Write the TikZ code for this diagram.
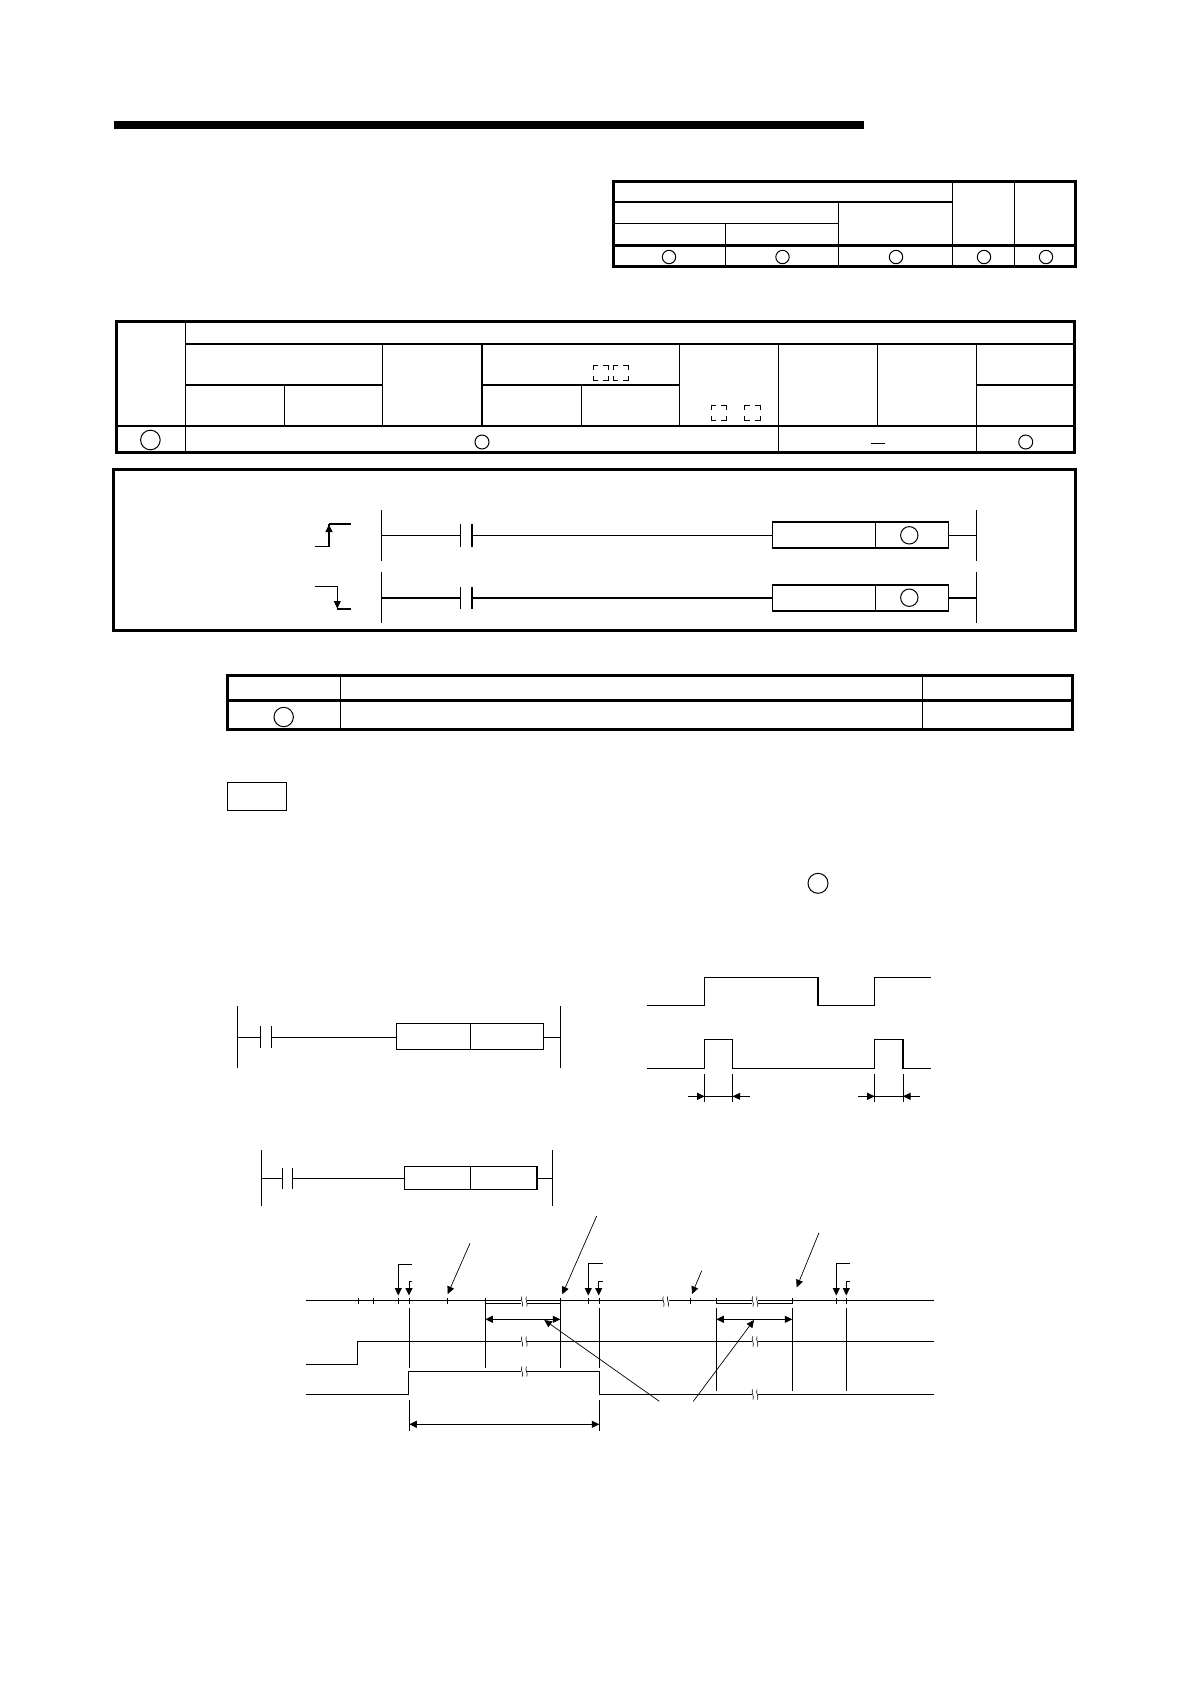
\documentclass[tikz,border=0pt]{standalone}
\usepackage{amsmath}
\usetikzlibrary{arrows.meta}
\tikzset{
	outerline/.style={line width=3pt},
	midline/.style={line width=1.8pt},
	thinline/.style={line width=1pt},
	leaderline/.style={line width=0.7pt},
	headend/.style={-{Triangle[length=7.5pt,width=7pt]}},
	headboth/.style={{Triangle[length=7.5pt,width=7pt]}-{Triangle[length=7.5pt,width=7pt]}},
	bracketbox/.style={line width=0.8pt,dash pattern=on 10pt off 5.2pt,dash phase=5pt},
}
\newcommand{\breakmark}[2]{%
\fill[white] (#1-3,#2-2.5) rectangle (#1+3,#2+2.5);
\draw[line width=0.6pt] (#1-2.5,#2-5) .. controls (#1-4,#2-1) and (#1-0.5,#2+1) .. (#1-2,#2+5);
\draw[line width=0.6pt] (#1+2,#2-5) .. controls (#1+0.5,#2-1) and (#1+4,#2+1) .. (#1+2.5,#2+5);
}
\begin{document}
\begin{tikzpicture}[x=1pt,y=-1pt,thinline]
\useasboundingbox (0,0) rectangle (1190,1684);
\fill (114,121) rectangle (864,129);

\draw[outerline] (613.5,181) rectangle (1075.5,266);
\draw[midline] (613.5,202) -- (952.7,202);
\draw[line width=1.4pt] (613.5,223.3) -- (838.5,223.3);
\draw[outerline] (613.5,245.3) -- (1075.5,245.3);
\draw (725.6,223.3) -- (725.6,266);
\draw (838.5,202) -- (838.5,266);
\draw (952.7,181) -- (952.7,266);
\draw (1014.5,181) -- (1014.5,266);
\foreach \cx in {669,782.5,896,984,1046}
	\draw (\cx,257) circle (6.7);

\draw[outerline] (116.5,321) rectangle (1074.5,452.7);
\draw[line width=1.3pt] (185.5,321) -- (185.5,452.7);
\draw[midline] (185.5,343.7) -- (1074.5,343.7);
\draw[midline] (185.5,385) -- (382.5,385);
\draw[midline] (482,385) -- (679,385);
\draw[midline] (976.3,385) -- (1074.5,385);
\draw[midline] (116.5,426) -- (1074.5,426);
\draw (284.3,385) -- (284.3,426);
\draw[line width=1.3pt] (382.5,343.7) -- (382.5,426);
\draw[midline] (482,343.7) -- (482,426);
\draw (581.3,385) -- (581.3,426);
\draw (679,343.7) -- (679,426);
\draw (778.6,343.7) -- (778.6,452.7);
\draw (877.4,343.7) -- (877.4,426);
\draw (976.3,343.7) -- (976.3,452.7);
\draw (150.4,440) circle (9.8);
\draw (482,442) circle (7);
\draw (1025.7,442) circle (7);
\draw (871,443.3) -- (884.5,443.3);
\draw[bracketbox] (593,365.4) rectangle +(15.2,15.2);
\draw[bracketbox] (613,365.4) rectangle +(15.2,15.2);
\draw[bracketbox] (711,405.4) rectangle +(15.2,15.2);
\draw[bracketbox] (744.8,405.4) rectangle +(15.2,15.2);

\draw[outerline] (113.5,469.7) rectangle (1075,630.3);
\draw (381.3,510) -- (381.3,560.7);
\draw (976.3,510) -- (976.3,560.7);
\draw[line width=1.2pt] (381.3,535.3) -- (460.3,535.3);
\draw[line width=1.2pt] (471.8,535.3) -- (772.8,535.3);
\draw[line width=1.2pt] (948.2,535.3) -- (976.3,535.3);
\draw (460.3,524) -- (460.3,546.7);
\draw[midline] (471.8,524) -- (471.8,546.7);
\draw[line width=1.3pt] (772.8,522) rectangle (948.2,548);
\draw (875.5,522) -- (875.5,548);
\draw (909.3,535.3) circle (8.7);
\draw (381.3,572) -- (381.3,622.7);
\draw (976.3,572) -- (976.3,622.7);
\draw[midline] (381.3,597.7) -- (460.3,597.7);
\draw[midline] (471.8,597.7) -- (772.8,597.7);
\draw[midline] (948.2,597.7) -- (976.3,597.7);
\draw (460.3,587) -- (460.3,608.7);
\draw[midline] (471.8,587) -- (471.8,608.7);
\draw[line width=1.3pt] (772.8,585) rectangle (948.2,611);
\draw (875.5,585) -- (875.5,611);
\draw (909.3,597.7) circle (8.7);
\draw[line width=1.2pt] (314.7,546.7) -- (329,546.7) -- (329,524);
\draw[midline] (329,524) -- (350.7,524);
\draw[headend] (329,540) -- (329,524.5);
\draw[line width=1.2pt] (314.7,586.3) -- (337.3,586.3) -- (337.3,609) -- (350.7,609);
\draw[headend] (337.3,595) -- (337.3,608.5);

\draw[outerline] (227.5,675.3) rectangle (1072,729.3);
\draw[outerline] (227.5,700) -- (1072,700);
\draw (340.4,675.3) -- (340.4,729.3);
\draw (922,675.3) -- (922,729.3);
\draw (283.7,717) circle (9.7);
\draw (227.5,782.3) rectangle (286.2,810.7);
\draw (818,883.3) circle (10);

\draw (237.3,1006.3) -- (237.3,1067.7);
\draw (560.6,1006.3) -- (560.6,1067.7);
\draw (237.3,1037.3) -- (260.6,1037.3);
\draw (271.3,1037.3) -- (396.3,1037.3);
\draw (543.7,1037.3) -- (560.6,1037.3);
\draw (260.6,1026) -- (260.6,1048);
\draw (271.3,1026) -- (271.3,1048);
\draw[line width=1.3pt] (396.3,1023.7) rectangle (543.7,1049.7);
\draw (470.5,1023.7) -- (470.5,1049.7);

\draw[line width=1.2pt] (647,1005.3) -- (704.6,1005.3) -- (704.6,977.3) -- (818,977.3) -- (818,1005.3) -- (874.7,1005.3) -- (874.7,977.3) -- (930.5,977.3);
\draw[line width=1.2pt] (647,1068.3) -- (704.6,1068.3) -- (704.6,1039.3) -- (732.7,1039.3) -- (732.7,1068.3) -- (874.7,1068.3) -- (874.7,1039.3) -- (902.9,1039.3) -- (902.9,1068.3) -- (930.5,1068.3);
\foreach \tx in {704.6,732.7,874.7,903}
	\draw (\tx,1074.3) -- (\tx,1101.7);
\draw (688,1096.3) -- (750,1096.3);
\draw (858.3,1096.3) -- (919.8,1096.3);
\draw[headend] (696,1096.3) -- (704.6,1096.3);
\draw[headend] (741,1096.3) -- (732.7,1096.3);
\draw[headend] (866,1096.3) -- (874.7,1096.3);
\draw[headend] (911,1096.3) -- (903,1096.3);

\draw (261.6,1150) -- (261.6,1205.7);
\draw (552.4,1150) -- (552.4,1205.7);
\draw (261.6,1178.3) -- (282.4,1178.3);
\draw (292.6,1178.3) -- (404.6,1178.3);
\draw (536.9,1178.3) -- (552.4,1178.3);
\draw (282.4,1168) -- (282.4,1188.7);
\draw (292.6,1168) -- (292.6,1188.7);
\draw[line width=1.2pt] (404.6,1166.3) rectangle (536.9,1189.7);
\draw (470.5,1166.3) -- (470.5,1189.7);

\draw (306,1300) -- (934,1300);
\foreach \tx in {358.3,373.3,398.3,409.3,447.3,485.3,560.3,588.7,599.3,690.3,716.3,792.3,836.3,846.3}
	\draw (\tx,1297.5) -- (\tx,1304);
\draw (485.3,1303.3) -- (560.3,1303.3);
\draw (716.3,1303.3) -- (792.3,1303.3);

\draw[line width=1.2pt] (306,1364.3) -- (357.3,1364.3) -- (357.3,1341.3) -- (934,1341.3);
\draw[line width=1.2pt] (306,1394.3) -- (408.7,1394.3) -- (408.7,1371.3) -- (599.3,1371.3) -- (599.3,1394.3) -- (934,1394.3);

\draw (409.3,1308.3) -- (409.3,1367.7);
\draw (485.3,1303.3) -- (485.3,1367.7);
\draw (560.3,1303.3) -- (560.3,1367.7);
\draw (599.3,1308.3) -- (599.3,1367.7);
\draw (716.3,1308) -- (716.3,1390.7);
\draw (792.3,1308) -- (792.3,1390.7);
\draw (846.3,1308) -- (846.3,1390.7);

\breakmark{524.3}{1301.5}
\breakmark{665.7}{1301.5}
\breakmark{755}{1301.5}
\breakmark{524.3}{1341.5}
\breakmark{755}{1341.5}
\breakmark{524.3}{1371.5}
\breakmark{755}{1394.5}

\draw[headend] (412,1264.3) -- (398.3,1264.3) -- (398.3,1295.5);
\draw[headend] (412,1281.3) -- (409,1281.3) -- (409,1295.5);
\draw[headend] (602.7,1263.3) -- (588.3,1263.3) -- (588.3,1295.5);
\draw[headend] (602.7,1281.3) -- (598.7,1281.3) -- (598.7,1295.5);
\draw[headend] (850,1263.3) -- (836.3,1263.3) -- (836.3,1295.5);
\draw[headend] (850,1281.3) -- (846.3,1281.3) -- (846.3,1295.5);

\draw[headend,leaderline] (470,1243.3) -- (447.7,1294);
\draw[headend,leaderline] (596.7,1216) -- (562.3,1294.3);
\draw[headend,leaderline] (701.7,1270.7) -- (692,1294);
\draw[headend,leaderline] (819,1232.7) -- (796.7,1287.3);
\draw[headend,leaderline] (659.3,1401.3) -- (544.3,1320);
\draw[headend,leaderline] (693.3,1401.3) -- (754,1320);

\draw[headboth] (485.3,1319.3) -- (560.3,1319.3);
\draw[headboth] (716.3,1319.3) -- (792.3,1319.3);
\draw (409.3,1400) -- (409.3,1430.7);
\draw (599.3,1400) -- (599.3,1430.7);
\draw[headboth] (409.3,1424.3) -- (599.3,1424.3);
\end{tikzpicture}
\end{document}
